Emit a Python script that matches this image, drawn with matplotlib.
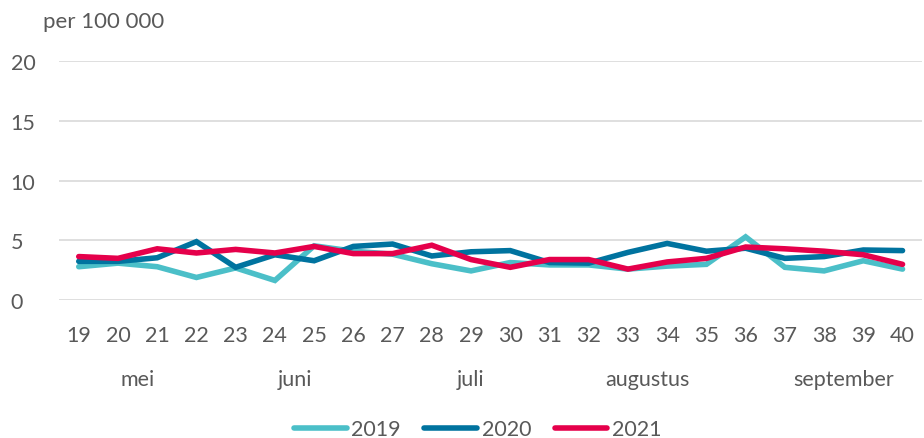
import matplotlib
matplotlib.use('Agg')
import matplotlib.pyplot as plt

plt.rcParams['font.family'] = ['Lato', 'DejaVu Sans']

# Weekly values per 100 000, weeks 19-40
weeks = list(range(19, 41))
y2019 = [2.8, 3.1, 2.8, 1.9, 2.7, 1.65, 4.55, 4.1, 3.85, 3.05, 2.45, 3.15, 2.95, 2.95, 2.6, 2.85, 3.0, 5.3, 2.75, 2.45, 3.3, 2.6]
y2020 = [3.25, 3.25, 3.55, 4.9, 2.75, 3.8, 3.3, 4.5, 4.7, 3.7, 4.05, 4.15, 3.15, 3.1, 4.0, 4.75, 4.1, 4.35, 3.5, 3.65, 4.2, 4.15]
y2021 = [3.65, 3.5, 4.3, 3.95, 4.25, 3.95, 4.5, 3.9, 3.9, 4.6, 3.4, 2.75, 3.4, 3.4, 2.6, 3.2, 3.5, 4.45, 4.3, 4.1, 3.8, 3.0]

months = ['mei', 'juni', 'juli', 'augustus', 'september']
month_pos = [20.5, 24.5, 29, 33.5, 38.5]

colors = {'2019': '#4BBFC8', '2020': '#00739F', '2021': '#E5004B'}
text_col = '#595959'
fs = 15.5

fig = plt.figure(figsize=(9.24, 4.39), dpi=100)
ax = fig.add_axes([0.064, 0.314, 0.934, 0.544])

for label, vals in [('2019', y2019), ('2020', y2020), ('2021', y2021)]:
    ax.plot(weeks, vals, color=colors[label], linewidth=4, label=label,
            solid_capstyle='round', solid_joinstyle='miter')

ax.set_xlim(18.5, 40.5)
ax.set_ylim(0, 20)
ax.set_yticks([0, 5, 10, 15, 20])
ax.set_xticks(weeks)
ax.set_xticklabels([str(w) for w in weeks])
ax.grid(axis='y', color='#D9D9D9', linewidth=1.2)
ax.set_axisbelow(True)
for s in ax.spines.values():
    s.set_visible(False)
ax.tick_params(length=0, labelsize=fs, colors=text_col)
ax.tick_params(axis='x', pad=18)
ax.tick_params(axis='y', pad=35)
for lab in ax.get_yticklabels():
    lab.set_horizontalalignment('left')

for m, p in zip(months, month_pos):
    ax.text(p, -0.33, m, transform=ax.get_xaxis_transform(), ha='center', va='center',
            fontsize=fs, color=text_col)

fig.text(0.046, 0.95, 'per 100 000', fontsize=16, color=text_col, va='center')

leg = fig.legend(loc='center', bbox_to_anchor=(0.517, 0.02), ncol=3, frameon=False,
                 fontsize=fs, handlelength=2.45, columnspacing=1.1, handletextpad=0.2)
for t in leg.get_texts():
    t.set_color(text_col)

fig.savefig('out.png', dpi=100)
